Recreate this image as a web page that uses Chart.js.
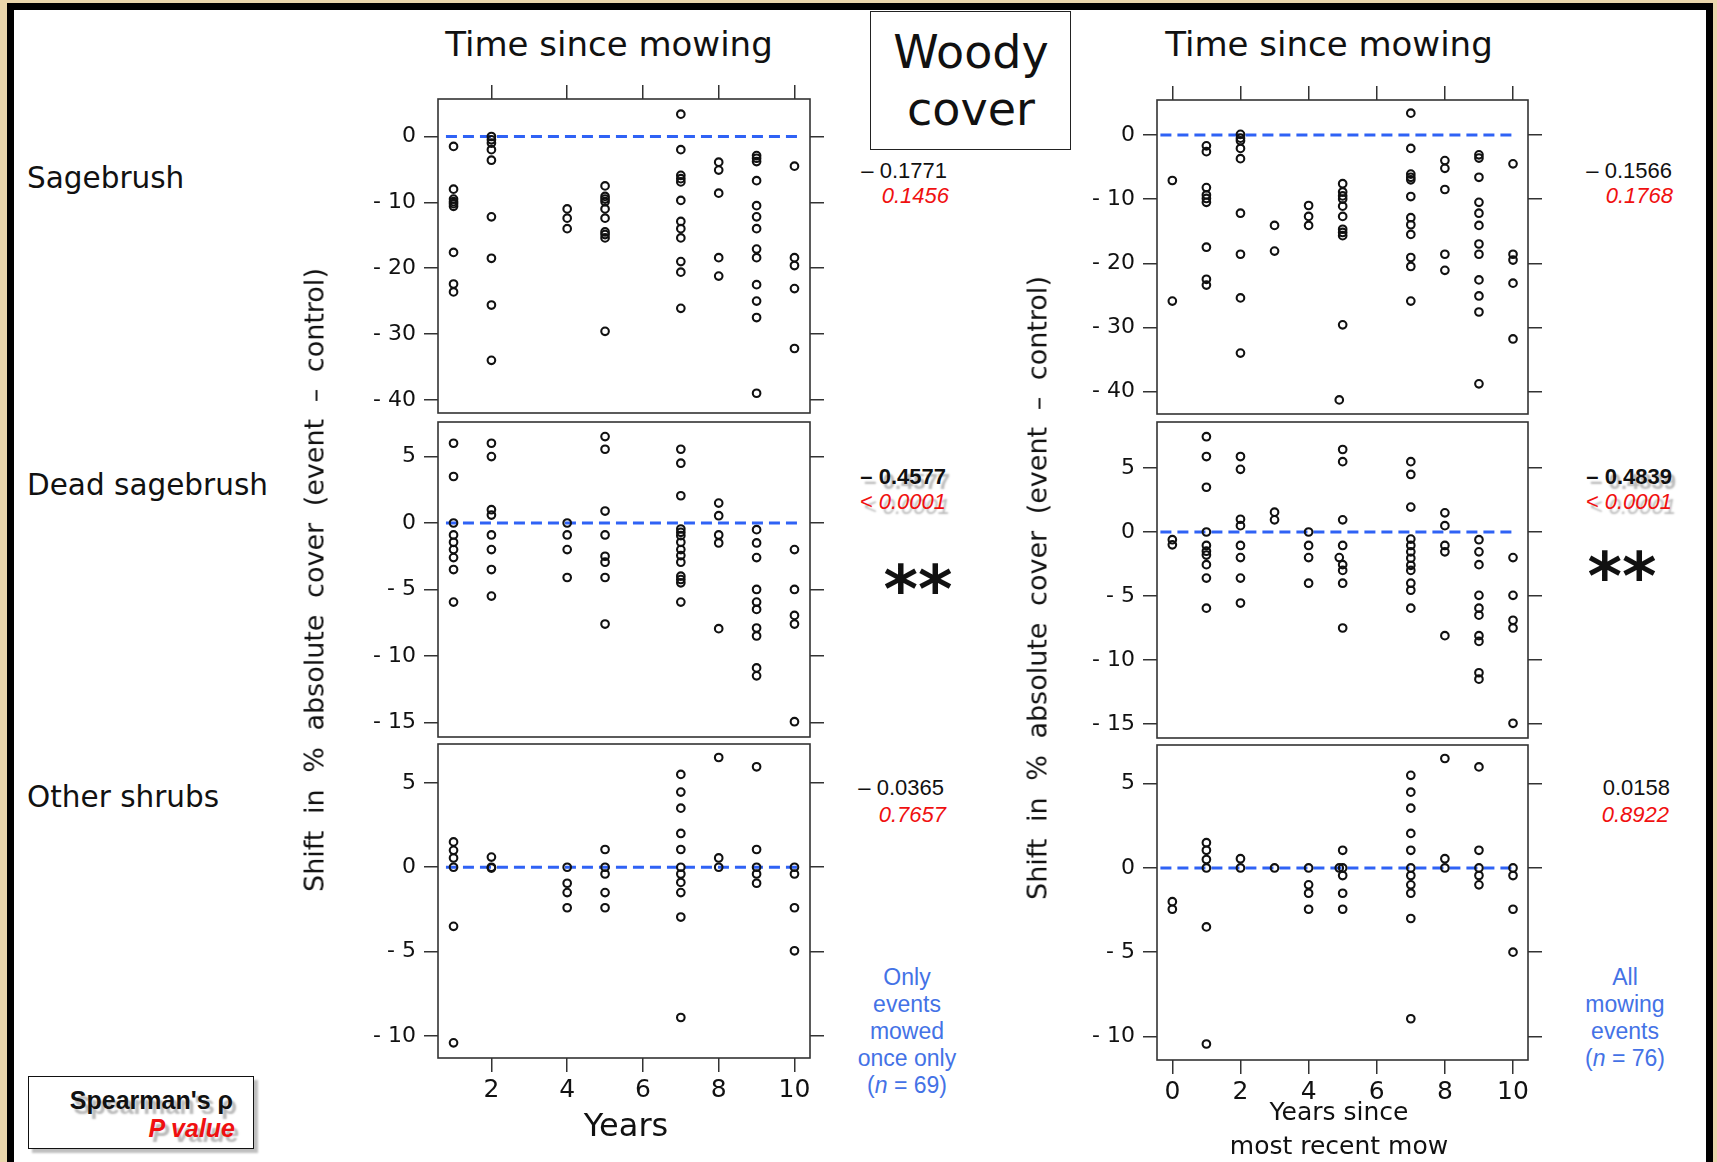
<!DOCTYPE html>
<html>
<head>
<meta charset="utf-8">
<script src="https://cdn.jsdelivr.net/npm/chart.js@4.4.1/dist/chart.umd.min.js"></script>
<style>
  body { margin: 0; width: 1717px; height: 1162px; overflow: hidden; background: #ead6ac; position: relative; }
  .frame { position: absolute; left: 7px; top: 3px; width: 1692px; height: 1200px; background: #fff;
           border: 7px solid #000; border-bottom: none; }
  canvas { position: absolute; }
  .t { position: absolute; white-space: nowrap; line-height: 1; color: #111; }
  .dv { font-family: "DejaVu Sans", Verdana, sans-serif; }
  .ar { font-family: "Liberation Sans", Arial, sans-serif; }
  .c { transform: translate(-50%, -50%); }
  .r { transform: translateY(-50%); text-align: right; }
  .red { color: #f01010; font-style: italic; }
  .blue { color: #4472e6; font-size: 23px; }
  .shadow { text-shadow: 4px 5px 2px rgba(0,0,0,0.28); }
  .ytitle { font-size: 27px; word-spacing: 8px; transform: translate(-50%, -50%) rotate(-90deg); }
</style>
</head>
<body>
<div class="frame"></div>

<canvas id="sageOnceCv"></canvas>
<canvas id="deadOnceCv"></canvas>
<canvas id="otherOnceCv"></canvas>
<canvas id="sageAllCv"></canvas>
<canvas id="deadAllCv"></canvas>
<canvas id="otherAllCv"></canvas>

<div class="t dv c" style="left:609px;top:44px;font-size:34px">Time since mowing</div>
<div class="t dv c" style="left:1329px;top:44px;font-size:34px">Time since mowing</div>
<div style="position:absolute;left:870px;top:11px;width:199px;height:137px;border:1.5px solid #222;background:#fff"></div>
<div class="t dv c" style="left:971px;top:52px;font-size:46px">Woody</div>
<div class="t dv c" style="left:971px;top:109px;font-size:46px">cover</div>

<div class="t dv" style="left:27px;top:164px;font-size:29.5px">Sagebrush</div>
<div class="t dv" style="left:27px;top:471px;font-size:29.5px">Dead sagebrush</div>
<div class="t dv" style="left:27px;top:783px;font-size:29.5px">Other shrubs</div>

<div class="t dv ytitle" style="left:314px;top:580px">Shift in % absolute cover (event – control)</div>
<div class="t dv ytitle" style="left:1037px;top:588px">Shift in % absolute cover (event – control)</div>

<div class="t dv c" style="left:626px;top:1125px;font-size:32px">Years</div>
<div class="t dv c" style="left:1339px;top:1111px;font-size:25px">Years since</div>
<div class="t dv c" style="left:1339px;top:1145px;font-size:25px">most recent mow</div>

<!-- left column stats -->
<div class="t ar r" style="right:770px;top:171px;font-size:22px">– 0.1771</div>
<div class="t ar r red" style="right:768px;top:196px;font-size:22px">0.1456</div>
<div class="t ar r shadow" style="right:771px;top:477px;font-size:22px;font-weight:bold">– 0.4577</div>
<div class="t ar r red shadow" style="right:771px;top:502px;font-size:22px">&lt; 0.0001</div>
<div class="t dv c" style="left:918px;top:590px;font-size:66px;font-weight:bold">**</div>
<div class="t ar r" style="right:773px;top:788px;font-size:22px">– 0.0365</div>
<div class="t ar r red" style="right:771px;top:815px;font-size:22px">0.7657</div>
<div class="t ar c blue" style="left:907px;top:977px">Only</div>
<div class="t ar c blue" style="left:907px;top:1004px">events</div>
<div class="t ar c blue" style="left:907px;top:1031px">mowed</div>
<div class="t ar c blue" style="left:907px;top:1058px">once only</div>
<div class="t ar c blue" style="left:907px;top:1085px">(<i>n</i> = 69)</div>

<!-- right column stats -->
<div class="t ar r" style="right:45px;top:171px;font-size:22px">– 0.1566</div>
<div class="t ar r red" style="right:44px;top:196px;font-size:22px">0.1768</div>
<div class="t ar r shadow" style="right:45px;top:477px;font-size:22px;font-weight:bold">– 0.4839</div>
<div class="t ar r red shadow" style="right:45px;top:502px;font-size:22px">&lt; 0.0001</div>
<div class="t dv c" style="left:1622px;top:577px;font-size:66px;font-weight:bold">**</div>
<div class="t ar r" style="right:47px;top:788px;font-size:22px">0.0158</div>
<div class="t ar r red" style="right:48px;top:815px;font-size:22px">0.8922</div>
<div class="t ar c blue" style="left:1625px;top:977px">All</div>
<div class="t ar c blue" style="left:1625px;top:1004px">mowing</div>
<div class="t ar c blue" style="left:1625px;top:1031px">events</div>
<div class="t ar c blue" style="left:1625px;top:1058px">(<i>n</i> = 76)</div>

<!-- legend box -->
<div style="position:absolute;left:28px;top:1076px;width:224px;height:71px;border:1.5px solid #111;background:#fff;box-shadow:4px 4px 2px rgba(0,0,0,0.25)"></div>
<div class="t ar r shadow" style="right:1484px;top:1100px;font-size:25px;font-weight:bold">Spearman's ρ</div>
<div class="t ar r red shadow" style="right:1482px;top:1128px;font-size:25px;font-weight:bold">P value</div>

<script>
// tick values
const yearTicksOnce = [2, 4, 6, 8, 10];
const yearTicksAll = [0, 2, 4, 6, 8, 10];
const sageTicks = [0, -10, -20, -30, -40];
const deadTicks = [5, 0, -5, -10, -15];
const otherTicks = [5, 0, -5, -10];

// [years, shift in % cover] -- events mowed once only
const sageOnce = [
  [1, -1.5], [1, -8.0], [1, -9.5], [1, -9.9], [1, -10.2], [1, -10.6], [1, -17.6], [1, -22.4], [1, -23.6],
  [2, 0], [2, -0.5], [2, -1.0], [2, -2.0], [2, -3.6], [2, -12.2], [2, -18.5], [2, -25.6], [2, -34.0],
  [4, -11.0], [4, -12.4], [4, -14.0],
  [5, -7.5], [5, -9.1], [5, -9.5], [5, -9.9], [5, -11.0], [5, -12.4], [5, -14.5], [5, -14.9], [5, -15.4], [5, -29.6],
  [7, 3.4], [7, -2.0], [7, -5.9], [7, -6.4], [7, -6.9], [7, -9.7], [7, -12.9], [7, -14.0], [7, -15.4], [7, -19.0], [7, -20.6], [7, -26.1],
  [8, -3.9], [8, -5.1], [8, -8.6], [8, -18.4], [8, -21.2],
  [9, -2.9], [9, -3.3], [9, -3.8], [9, -6.7], [9, -10.5], [9, -12.2], [9, -14.0], [9, -17.1], [9, -18.4], [9, -22.5], [9, -25.0], [9, -27.5], [9, -39.0],
  [10, -4.5], [10, -18.4], [10, -19.6], [10, -23.1], [10, -32.2]
];
const deadOnce = [
  [1, 6.0], [1, 3.5], [1, 0], [1, -0.9], [1, -1.45], [1, -2.0], [1, -2.6], [1, -3.5], [1, -5.95],
  [2, 6.0], [2, 5.0], [2, 1.0], [2, 0.6], [2, -0.9], [2, -2.0], [2, -3.5], [2, -5.5],
  [4, 0], [4, -0.9], [4, -2.0], [4, -4.1],
  [5, 6.5], [5, 5.55], [5, 0.9], [5, -0.9], [5, -2.5], [5, -2.95], [5, -4.1], [5, -7.6],
  [7, 5.55], [7, 4.5], [7, 2.05], [7, -0.45], [7, -0.7], [7, -0.95], [7, -1.45], [7, -2.0], [7, -2.45], [7, -2.95], [7, -4.0], [7, -4.25], [7, -4.5], [7, -5.95],
  [8, 1.5], [8, 0.55], [8, -0.9], [8, -1.5], [8, -7.95],
  [9, -0.5], [9, -1.5], [9, -2.6], [9, -5.0], [9, -5.95], [9, -6.5], [9, -7.9], [9, -8.5], [9, -10.9], [9, -11.5],
  [10, -2.0], [10, -5.0], [10, -6.95], [10, -7.6], [10, -14.95]
];
const otherOnce = [
  [1, 1.5], [1, 1.0], [1, 0.55], [1, 0], [1, -3.5], [1, -10.4],
  [2, 0.6], [2, 0], [2, -0.05],
  [4, 0], [4, -0.95], [4, -1.5], [4, -2.4],
  [5, 1.05], [5, 0], [5, -0.4], [5, -1.5], [5, -2.4],
  [7, 5.5], [7, 4.45], [7, 3.5], [7, 2.0], [7, 1.05], [7, 0], [7, -0.4], [7, -0.9], [7, -1.5], [7, -2.95], [7, -8.9],
  [8, 6.5], [8, 0.55], [8, 0],
  [9, 5.95], [9, 1.05], [9, 0], [9, -0.4], [9, -0.95],
  [10, 0], [10, -0.4], [10, -2.4], [10, -4.95]
];

// [years since most recent mow, shift in % cover] -- all mowing events
const sageAll = [
  [0, -7.1], [0, -25.9],
  [1, -1.7], [1, -2.6], [1, -8.2], [1, -9.35], [1, -9.9], [1, -10.5], [1, -17.5], [1, -22.5], [1, -23.4],
  [2, 0.1], [2, -0.5], [2, -0.9], [2, -2.1], [2, -3.7], [2, -12.2], [2, -18.6], [2, -25.4], [2, -34.0],
  [3, -14.1], [3, -18.1],
  [4, -11.0], [4, -12.7], [4, -14.1],
  [4.9, -41.3],
  [5, -7.6], [5, -8.9], [5, -9.5], [5, -10.0], [5, -11.1], [5, -12.7], [5, -14.7], [5, -15.2], [5, -15.7], [5, -29.6],
  [7, 3.4], [7, -2.1], [7, -6.1], [7, -6.6], [7, -7.0], [7, -9.6], [7, -12.9], [7, -14.0], [7, -15.5], [7, -19.1], [7, -20.5], [7, -25.9],
  [8, -4.0], [8, -5.2], [8, -8.5], [8, -18.6], [8, -21.1],
  [9, -3.1], [9, -3.6], [9, -6.6], [9, -10.5], [9, -12.2], [9, -14.1], [9, -17.0], [9, -18.6], [9, -22.6], [9, -25.1], [9, -27.6], [9, -38.8],
  [10, -4.5], [10, -18.6], [10, -19.5], [10, -23.1], [10, -31.8]
];
const deadAll = [
  [0, -0.6], [0, -1.0],
  [1, 7.45], [1, 5.9], [1, 3.5], [1, 0], [1, -1.05], [1, -1.5], [1, -1.8], [1, -2.55], [1, -3.6], [1, -5.95],
  [2, 5.9], [2, 4.9], [2, 1.0], [2, 0.5], [2, -1.05], [2, -2.0], [2, -3.6], [2, -5.55],
  [3, 1.55], [3, 0.95],
  [4, 0], [4, -1.05], [4, -2.0], [4, -4.0],
  [4.9, -2.0],
  [5, 6.45], [5, 5.5], [5, 0.95], [5, -1.05], [5, -2.55], [5, -3.0], [5, -4.0], [5, -7.5],
  [7, 5.5], [7, 4.5], [7, 1.95], [7, -0.55], [7, -1.05], [7, -1.55], [7, -2.05], [7, -2.6], [7, -3.0], [7, -4.0], [7, -4.55], [7, -5.95],
  [8, 1.5], [8, 0.5], [8, -1.05], [8, -1.55], [8, -8.1],
  [9, -0.6], [9, -1.55], [9, -2.55], [9, -4.95], [9, -5.95], [9, -6.5], [9, -8.1], [9, -8.55], [9, -11.0], [9, -11.5],
  [10, -2.0], [10, -4.95], [10, -6.9], [10, -7.5], [10, -14.95]
];
const otherAll = [
  [0, -2.0], [0, -2.45],
  [1, 1.5], [1, 1.05], [1, 0.5], [1, 0], [1, -3.5], [1, -10.45],
  [2, 0.55], [2, 0],
  [3, 0],
  [4, 0], [4, -1.0], [4, -1.5], [4, -2.45],
  [4.9, 0],
  [5, 1.05], [5, 0], [5, -0.45], [5, -1.5], [5, -2.45],
  [7, 5.5], [7, 4.5], [7, 3.55], [7, 2.05], [7, 1.05], [7, 0], [7, -0.45], [7, -1.0], [7, -1.5], [7, -3.0], [7, -8.95],
  [8, 6.5], [8, 0.55], [8, 0],
  [9, 6.0], [9, 1.05], [9, 0], [9, -0.45], [9, -1.0],
  [10, 0], [10, -0.45], [10, -2.45], [10, -5.0]
];

// dashed zero line extent (in years)
const zeroLineOnce = [0.8, 10.15];
const zeroLineAll = [-0.35, 10.1];

const boxPlugin = {
  id: 'panelBox',
  afterDraw(chart) {
    const a = chart.chartArea, c = chart.ctx;
    c.save();
    c.strokeStyle = '#333';
    c.lineWidth = 1.6;
    c.strokeRect(a.left, a.top, a.right - a.left, a.bottom - a.top);
    c.restore();
  }
};

const fixSize = size => scale => {
  if (scale.isHorizontal()) scale.height = size; else scale.width = size;
};
const useTicks = vals => scale => { scale.ticks = vals.map(v => ({ value: v })); };
const minusLabel = v => v < 0 ? '- ' + Math.abs(v) : String(v);

function makePanel(id, box, xRange, yRange, xTicks, yTicks, tickSide, points, zeroLine) {
  const cv = document.getElementById(id);
  cv.width = box.r - box.l + 132;
  cv.height = box.b - box.t + 72;
  cv.style.left = (box.l - 110) + 'px';
  cv.style.top = (box.t - 22) + 'px';

  const grid = on => ({ drawOnChartArea: false, drawTicks: on, tickLength: 14, color: '#333', lineWidth: 1.5 });

  new Chart(cv, {
    type: 'scatter',
    data: {
      datasets: [{
        data: points.map(p => ({ x: p[0], y: p[1] })),
        pointStyle: 'circle',
        pointRadius: 3.8,
        borderWidth: 2.1,
        borderColor: '#111',
        backgroundColor: 'rgba(0,0,0,0)'
      }, {
        data: [{ x: zeroLine[0], y: 0 }, { x: zeroLine[1], y: 0 }],
        showLine: true,
        pointRadius: 0,
        borderColor: '#2f62f5',
        borderWidth: 3,
        borderDash: [11, 6]
      }]
    },
    options: {
      responsive: false,
      animation: false,
      events: [],
      layout: { padding: 0, autoPadding: false },
      plugins: { legend: { display: false }, tooltip: { enabled: false } },
      scales: {
        x: {
          type: 'linear', position: 'bottom', min: xRange[0], max: xRange[1],
          afterBuildTicks: useTicks(xTicks), afterFit: fixSize(50),
          grid: grid(tickSide === 'bottom'), border: { display: false },
          ticks: { display: tickSide === 'bottom', padding: 3, color: '#111',
                   font: { family: 'DejaVu Sans', size: 25 } }
        },
        xTop: {
          type: 'linear', position: 'top', min: xRange[0], max: xRange[1],
          afterBuildTicks: useTicks(xTicks), afterFit: fixSize(22),
          grid: grid(tickSide === 'top'), border: { display: false },
          ticks: { display: false }
        },
        y: {
          type: 'linear', position: 'left', min: yRange[0], max: yRange[1],
          afterBuildTicks: useTicks(yTicks), afterFit: fixSize(110),
          grid: grid(true), border: { display: false },
          ticks: { padding: 8, color: '#111', callback: minusLabel,
                   font: { family: 'DejaVu Sans', size: 22 } }
        },
        yRight: {
          type: 'linear', position: 'right', min: yRange[0], max: yRange[1],
          afterBuildTicks: useTicks(yTicks), afterFit: fixSize(22),
          grid: grid(true), border: { display: false },
          ticks: { display: false }
        }
      }
    },
    plugins: [boxPlugin]
  });
}

const xOnce = [0.59, 10.41];
const xAll = [-0.45, 10.44];

makePanel('sageOnceCv', { l: 438, t: 99, r: 810, b: 413 }, xOnce, [-42.0, 5.7], yearTicksOnce, sageTicks, 'top', sageOnce, zeroLineOnce);
makePanel('deadOnceCv', { l: 438, t: 422, r: 810, b: 737 }, xOnce, [-16.1, 7.6], yearTicksOnce, deadTicks, 'none', deadOnce, zeroLineOnce);
makePanel('otherOnceCv', { l: 438, t: 744, r: 810, b: 1058 }, xOnce, [-11.3, 7.3], yearTicksOnce, otherTicks, 'bottom', otherOnce, zeroLineOnce);
makePanel('sageAllCv', { l: 1157, t: 100, r: 1528, b: 414 }, xAll, [-43.5, 5.45], yearTicksAll, sageTicks, 'top', sageAll, zeroLineAll);
makePanel('deadAllCv', { l: 1157, t: 422, r: 1528, b: 738 }, xAll, [-16.1, 8.6], yearTicksAll, deadTicks, 'none', deadAll, zeroLineAll);
makePanel('otherAllCv', { l: 1157, t: 745, r: 1528, b: 1060 }, xAll, [-11.4, 7.3], yearTicksAll, otherTicks, 'bottom', otherAll, zeroLineAll);
</script>
</body>
</html>
